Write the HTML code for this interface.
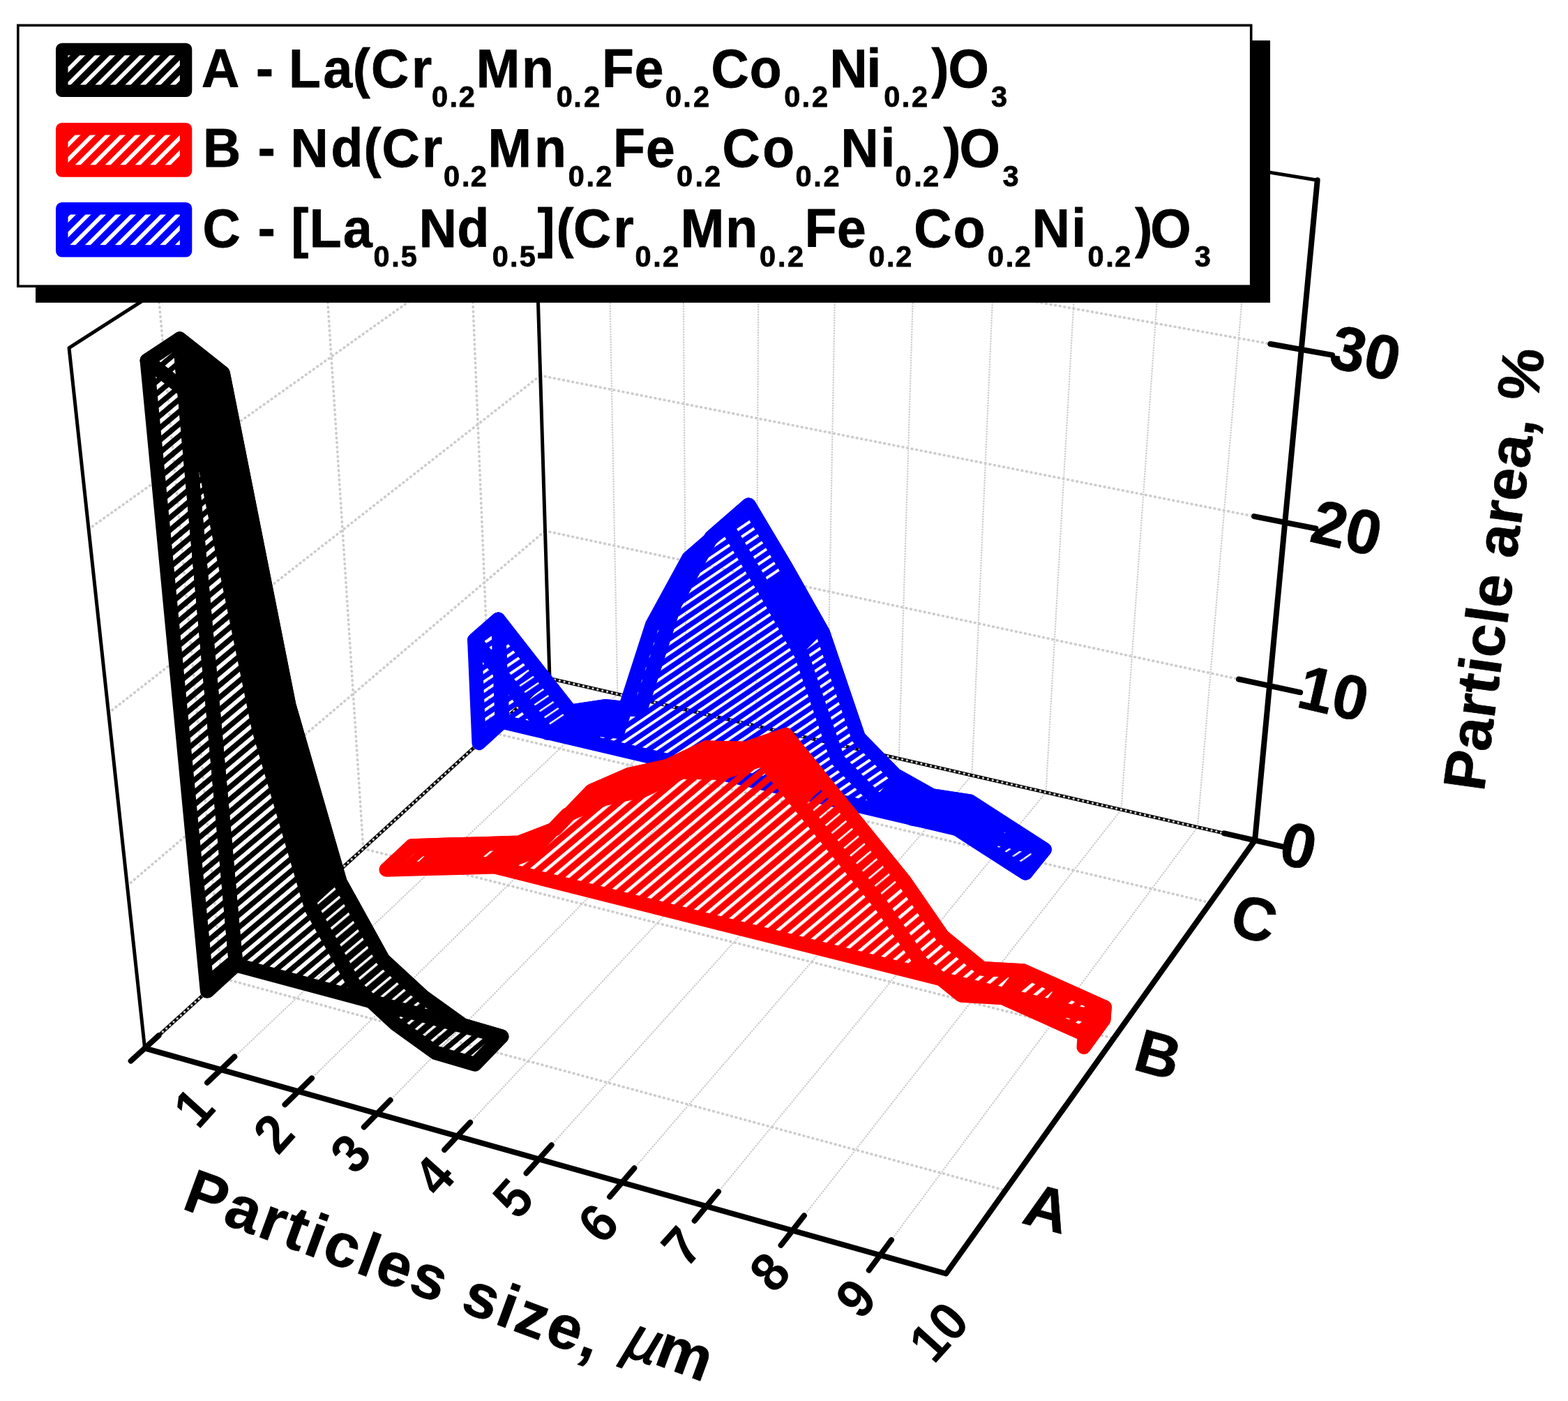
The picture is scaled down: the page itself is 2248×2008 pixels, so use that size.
<!DOCTYPE html>
<html lang="en"><head><meta charset="utf-8"><title>Particle area vs particles size</title>
<style>html,body{margin:0;padding:0;background:#fff;}body{width:2248px;height:2008px;overflow:hidden;}svg{display:block;}</style>
</head><body>
<svg width="2248" height="2008" viewBox="0 0 2248 2008" font-family="&quot;Liberation Sans&quot;, sans-serif" font-weight="bold" role="img" aria-label="3D ribbon chart of particle area versus particles size">
<defs>
<pattern id="h1A" patternUnits="userSpaceOnUse" width="13.5" height="13.5" patternTransform="rotate(-40) translate(0,0)"><rect x="0" y="0" width="13.5" height="5.8" fill="#000"/></pattern>
<pattern id="h2A" patternUnits="userSpaceOnUse" width="13.5" height="13.5" patternTransform="rotate(-40) translate(0,0)"><rect x="0" y="0" width="13.5" height="3.6" fill="#000"/></pattern>
<pattern id="h1B" patternUnits="userSpaceOnUse" width="14" height="14" patternTransform="rotate(-40) translate(0,0)"><rect x="0" y="0" width="14" height="4.6" fill="#000"/></pattern>
<pattern id="h2B" patternUnits="userSpaceOnUse" width="14" height="14" patternTransform="rotate(-40) translate(0,0)"><rect x="0" y="0" width="14" height="2.6" fill="#000"/></pattern>
<pattern id="h1C" patternUnits="userSpaceOnUse" width="11.5" height="11.5" patternTransform="rotate(-34) translate(0,0)"><rect x="0" y="0" width="11.5" height="4.0" fill="#000"/></pattern>
<pattern id="h2C" patternUnits="userSpaceOnUse" width="11.5" height="11.5" patternTransform="rotate(-34) translate(0,0)"><rect x="0" y="0" width="11.5" height="2.4" fill="#000"/></pattern>
<pattern id="hl" patternUnits="userSpaceOnUse" width="15.2" height="15.2" patternTransform="rotate(-45) translate(0,0)"><rect x="0" y="0" width="15.2" height="5.7" fill="#fff"/></pattern>
</defs>
<rect width="2248" height="2008" fill="#fff"/>
<g id="grid" fill="none">
<line x1="316.7" y1="1533.1" x2="885.3" y2="994.7" stroke="#cdcdcd" stroke-width="2.2" stroke-dasharray="2.3 1.4"/>
<line x1="885.3" y1="994.7" x2="868.1" y2="92.1" stroke="#cdcdcd" stroke-width="2.2" stroke-dasharray="2.3 1.4"/>
<line x1="427.8" y1="1564.3" x2="983.9" y2="1017.3" stroke="#cdcdcd" stroke-width="2.2" stroke-dasharray="2.3 1.4"/>
<line x1="983.9" y1="1017.3" x2="977.6" y2="109.9" stroke="#cdcdcd" stroke-width="2.2" stroke-dasharray="2.3 1.4"/>
<line x1="540.7" y1="1596.1" x2="1084.0" y2="1040.3" stroke="#cdcdcd" stroke-width="2.2" stroke-dasharray="2.3 1.4"/>
<line x1="1084.0" y1="1040.3" x2="1088.8" y2="128.0" stroke="#cdcdcd" stroke-width="2.2" stroke-dasharray="2.3 1.4"/>
<line x1="655.7" y1="1628.4" x2="1185.6" y2="1063.6" stroke="#cdcdcd" stroke-width="2.2" stroke-dasharray="2.3 1.4"/>
<line x1="1185.6" y1="1063.6" x2="1201.8" y2="146.4" stroke="#cdcdcd" stroke-width="2.2" stroke-dasharray="2.3 1.4"/>
<line x1="772.6" y1="1661.3" x2="1288.7" y2="1087.2" stroke="#cdcdcd" stroke-width="2.2" stroke-dasharray="2.3 1.4"/>
<line x1="1288.7" y1="1087.2" x2="1316.8" y2="165.1" stroke="#cdcdcd" stroke-width="2.2" stroke-dasharray="2.3 1.4"/>
<line x1="891.7" y1="1694.8" x2="1393.3" y2="1111.3" stroke="#cdcdcd" stroke-width="2.2" stroke-dasharray="2.3 1.4"/>
<line x1="1393.3" y1="1111.3" x2="1433.6" y2="184.1" stroke="#cdcdcd" stroke-width="2.2" stroke-dasharray="2.3 1.4"/>
<line x1="1012.9" y1="1728.9" x2="1499.5" y2="1135.6" stroke="#cdcdcd" stroke-width="2.2" stroke-dasharray="2.3 1.4"/>
<line x1="1499.5" y1="1135.6" x2="1552.5" y2="203.4" stroke="#cdcdcd" stroke-width="2.2" stroke-dasharray="2.3 1.4"/>
<line x1="1136.2" y1="1763.6" x2="1607.4" y2="1160.4" stroke="#cdcdcd" stroke-width="2.2" stroke-dasharray="2.3 1.4"/>
<line x1="1607.4" y1="1160.4" x2="1673.4" y2="223.1" stroke="#cdcdcd" stroke-width="2.2" stroke-dasharray="2.3 1.4"/>
<line x1="1261.9" y1="1798.9" x2="1716.9" y2="1185.5" stroke="#cdcdcd" stroke-width="2.2" stroke-dasharray="2.3 1.4"/>
<line x1="1716.9" y1="1185.5" x2="1796.3" y2="243.1" stroke="#cdcdcd" stroke-width="2.2" stroke-dasharray="2.3 1.4"/>
<line x1="317.8" y1="1401.7" x2="1441.3" y2="1706.2" stroke="#cdcdcd" stroke-width="3.7" stroke-dasharray="0.8 5.9" stroke-linecap="round"/>
<line x1="317.8" y1="1401.7" x2="226.6" y2="416.9" stroke="#cdcdcd" stroke-width="3.7" stroke-dasharray="0.8 5.9" stroke-linecap="round"/>
<line x1="520.8" y1="1216.4" x2="1596.7" y2="1488.3" stroke="#cdcdcd" stroke-width="3.7" stroke-dasharray="0.8 5.9" stroke-linecap="round"/>
<line x1="520.8" y1="1216.4" x2="459.1" y2="267.8" stroke="#cdcdcd" stroke-width="3.7" stroke-dasharray="0.8 5.9" stroke-linecap="round"/>
<line x1="703.4" y1="1049.6" x2="1735.3" y2="1293.9" stroke="#cdcdcd" stroke-width="3.7" stroke-dasharray="0.8 5.9" stroke-linecap="round"/>
<line x1="703.4" y1="1049.6" x2="665.6" y2="135.4" stroke="#cdcdcd" stroke-width="3.7" stroke-dasharray="0.8 5.9" stroke-linecap="round"/>
<line x1="182.3" y1="1269.4" x2="781.5" y2="760.9" stroke="#cdcdcd" stroke-width="3.7" stroke-dasharray="0.8 5.9" stroke-linecap="round"/>
<line x1="781.5" y1="760.9" x2="1820.0" y2="982.9" stroke="#cdcdcd" stroke-width="3.7" stroke-dasharray="0.8 5.9" stroke-linecap="round"/>
<line x1="155.6" y1="1021.8" x2="774.7" y2="538.2" stroke="#cdcdcd" stroke-width="3.7" stroke-dasharray="0.8 5.9" stroke-linecap="round"/>
<line x1="774.7" y1="538.2" x2="1842.2" y2="748.8" stroke="#cdcdcd" stroke-width="3.7" stroke-dasharray="0.8 5.9" stroke-linecap="round"/>
<line x1="127.1" y1="758.3" x2="767.5" y2="303.5" stroke="#cdcdcd" stroke-width="3.7" stroke-dasharray="0.8 5.9" stroke-linecap="round"/>
<line x1="767.5" y1="303.5" x2="1865.7" y2="500.9" stroke="#cdcdcd" stroke-width="3.7" stroke-dasharray="0.8 5.9" stroke-linecap="round"/>
</g>
<g id="box" fill="none" stroke="#000" stroke-linecap="round" stroke-linejoin="round">
<path d="M207.6,1502.4 L99.0,498.7 L760.5,74.5 L1888.7,258.2" stroke-width="5"/>
<line x1="788.0" y1="972.4" x2="760.5" y2="74.5" stroke-width="5"/>
<path d="M207.6,1502.4 L300.6,1417.5" stroke-width="5" stroke-linecap="butt"/>
<path d="M207.6,1502.4 L300.6,1417.5" stroke="#cdcdcd" stroke-width="3.2" stroke-dasharray="0.1 6.9" stroke-linecap="round"/>
<path d="M447.3,1283.5 L788.0,972.4 L1799.1,1204.4" stroke-width="5" stroke-linecap="butt"/>
<path d="M447.3,1283.5 L788.0,972.4 L1799.1,1204.4" stroke="#cdcdcd" stroke-width="3.2" stroke-dasharray="0.1 6.9" stroke-linecap="round"/>
</g>
<g id="ribbons">
<clipPath id="cwC"><path d="M714.3,887.8 L766.1,954.0 L817.7,1019.8 L867.4,1012.3 L917.9,1017.6 L967.5,865.2 L1019.7,770.2 L1073.4,723.6 L1127.0,813.6 L1179.9,907.1 L1230.8,1056.9 L1283.2,1110.6 L1336.3,1140.4 L1390.6,1148.6 L1444.0,1183.0 L1497.6,1217.5 L1497.6,1217.5 L720.0,1034.5 Z"/></clipPath>
<clipPath id="crC"><path d="M714.3,887.8 L766.1,954.0 L817.7,1019.8 L867.4,1012.3 L917.9,1017.6 L967.5,865.2 L1019.7,770.2 L1073.4,723.6 L1127.0,813.6 L1179.9,907.1 L1230.8,1056.9 L1283.2,1110.6 L1336.3,1140.4 L1390.6,1148.6 L1444.0,1183.0 L1497.6,1217.5 L1470.3,1251.5 L1416.2,1216.7 L1362.3,1181.9 L1307.6,1173.4 L1254.0,1143.3 L1201.0,1089.1 L1149.1,938.2 L1095.5,843.8 L1041.3,753.1 L987.3,799.9 L935.1,895.4 L885.8,1048.5 L834.9,1043.0 L784.9,1050.4 L732.8,984.1 L680.3,917.4 Z"/></clipPath>
<mask id="mC" maskUnits="userSpaceOnUse" x="0" y="0" width="2248" height="2008">
<rect width="2248" height="2008" fill="#fff"/>
<path d="M714.3,887.8 L766.1,954.0 L817.7,1019.8 L867.4,1012.3 L917.9,1017.6 L967.5,865.2 L1019.7,770.2 L1073.4,723.6 L1127.0,813.6 L1179.9,907.1 L1230.8,1056.9 L1283.2,1110.6 L1336.3,1140.4 L1390.6,1148.6 L1444.0,1183.0 L1497.6,1217.5 L1497.6,1217.5 L720.0,1034.5 Z" fill="url(#h1C)"/>
<path d="M714.3,887.8 L766.1,954.0 L817.7,1019.8 L867.4,1012.3 L917.9,1017.6 L967.5,865.2 L1019.7,770.2 L1073.4,723.6 L1127.0,813.6 L1179.9,907.1 L1230.8,1056.9 L1283.2,1110.6 L1336.3,1140.4 L1390.6,1148.6 L1444.0,1183.0 L1497.6,1217.5 L1470.3,1251.5 L1416.2,1216.7 L1362.3,1181.9 L1307.6,1173.4 L1254.0,1143.3 L1201.0,1089.1 L1149.1,938.2 L1095.5,843.8 L1041.3,753.1 L987.3,799.9 L935.1,895.4 L885.8,1048.5 L834.9,1043.0 L784.9,1050.4 L732.8,984.1 L680.3,917.4 Z" fill="#fff"/>
<path d="M686.7,1064.9 L680.3,917.4 L714.3,887.8 L720.0,1034.5 Z" fill="#fff"/>
<path d="M686.7,1064.9 L680.3,917.4 L714.3,887.8 L720.0,1034.5 Z" fill="url(#h1C)"/>
<path d="M714.3,887.8 L766.1,954.0 L732.8,984.1 L680.3,917.4 Z" fill="url(#h1C)"/>
<path d="M766.1,954.0 L817.7,1019.8 L784.9,1050.4 L732.8,984.1 Z" fill="url(#h2C)"/>
<path d="M917.9,1017.6 L967.5,865.2 L1019.7,770.2 L1073.4,723.6 L1041.3,753.1 L987.3,799.9 L935.1,895.4 L885.8,1048.5 Z" fill="url(#h2C)"/>
<path d="M1073.4,723.6 L1127.0,813.6 L1095.5,843.8 L1041.3,753.1 Z" fill="url(#h1C)"/>
<path d="M1179.9,907.1 L1230.8,1056.9 L1283.2,1110.6 L1254.0,1143.3 L1201.0,1089.1 L1149.1,938.2 Z" fill="url(#h1C)"/>
<path d="M1444.0,1183.0 L1497.6,1217.5 L1470.3,1251.5 L1416.2,1216.7 Z" fill="url(#h2C)"/>
<g fill="none" stroke="#fff" stroke-width="20.5" stroke-linejoin="round" stroke-linecap="round">
<path d="M714.3,887.8 L766.1,954.0 L817.7,1019.8 L867.4,1012.3 L917.9,1017.6 L967.5,865.2 L1019.7,770.2 L1073.4,723.6 L1127.0,813.6 L1179.9,907.1 L1230.8,1056.9 L1283.2,1110.6 L1336.3,1140.4 L1390.6,1148.6 L1444.0,1183.0 L1497.6,1217.5 L1497.6,1217.5 L720.0,1034.5 Z"/>
<path d="M714.3,887.8 L766.1,954.0 L817.7,1019.8 L867.4,1012.3 L917.9,1017.6 L967.5,865.2 L1019.7,770.2 L1073.4,723.6 L1127.0,813.6 L1179.9,907.1 L1230.8,1056.9 L1283.2,1110.6 L1336.3,1140.4 L1390.6,1148.6 L1444.0,1183.0 L1497.6,1217.5 L1470.3,1251.5 L1416.2,1216.7 L1362.3,1181.9 L1307.6,1173.4 L1254.0,1143.3 L1201.0,1089.1 L1149.1,938.2 L1095.5,843.8 L1041.3,753.1 L987.3,799.9 L935.1,895.4 L885.8,1048.5 L834.9,1043.0 L784.9,1050.4 L732.8,984.1 L680.3,917.4 Z"/>
<path d="M686.7,1064.9 L680.3,917.4 L714.3,887.8 L720.0,1034.5 Z"/>
</g>
</mask>
<g mask="url(#mC)" fill="#0000ff" stroke="#0000ff" stroke-width="20.5" stroke-linejoin="round" stroke-linecap="round">
<path d="M714.3,887.8 L766.1,954.0 L817.7,1019.8 L867.4,1012.3 L917.9,1017.6 L967.5,865.2 L1019.7,770.2 L1073.4,723.6 L1127.0,813.6 L1179.9,907.1 L1230.8,1056.9 L1283.2,1110.6 L1336.3,1140.4 L1390.6,1148.6 L1444.0,1183.0 L1497.6,1217.5 L1497.6,1217.5 L720.0,1034.5 Z"/>
<path d="M714.3,887.8 L766.1,954.0 L817.7,1019.8 L867.4,1012.3 L917.9,1017.6 L967.5,865.2 L1019.7,770.2 L1073.4,723.6 L1127.0,813.6 L1179.9,907.1 L1230.8,1056.9 L1283.2,1110.6 L1336.3,1140.4 L1390.6,1148.6 L1444.0,1183.0 L1497.6,1217.5 L1470.3,1251.5 L1416.2,1216.7 L1362.3,1181.9 L1307.6,1173.4 L1254.0,1143.3 L1201.0,1089.1 L1149.1,938.2 L1095.5,843.8 L1041.3,753.1 L987.3,799.9 L935.1,895.4 L885.8,1048.5 L834.9,1043.0 L784.9,1050.4 L732.8,984.1 L680.3,917.4 Z"/>
<path d="M686.7,1064.9 L680.3,917.4 L714.3,887.8 L720.0,1034.5 Z"/>
</g>
<clipPath id="cwB"><path d="M590.2,1212.4 L641.0,1210.8 L692.3,1209.4 L744.2,1207.8 L796.1,1187.7 L848.1,1133.6 L902.0,1110.2 L956.9,1098.0 L1012.6,1071.6 L1069.1,1073.0 L1126.6,1053.2 L1183.4,1123.2 L1239.9,1192.9 L1296.1,1262.1 L1351.5,1342.3 L1408.0,1388.3 L1466.9,1391.5 L1525.0,1417.4 L1583.5,1443.5 L1582.2,1461.5 L590.2,1212.4 Z"/></clipPath>
<clipPath id="crB"><path d="M590.2,1212.4 L641.0,1210.8 L692.3,1209.4 L744.2,1207.8 L796.1,1187.7 L848.1,1133.6 L902.0,1110.2 L956.9,1098.0 L1012.6,1071.6 L1069.1,1073.0 L1126.6,1053.2 L1183.4,1123.2 L1239.9,1192.9 L1296.1,1262.1 L1351.5,1342.3 L1408.0,1388.3 L1466.9,1391.5 L1525.0,1417.4 L1583.5,1443.5 L1555.0,1482.7 L1496.0,1456.2 L1437.3,1429.9 L1378.0,1426.4 L1320.8,1380.0 L1264.7,1299.1 L1207.8,1229.1 L1150.6,1158.8 L1093.0,1088.1 L1035.3,1107.9 L978.3,1106.3 L922.3,1132.6 L867.1,1144.7 L812.9,1168.0 L760.8,1222.3 L708.6,1242.3 L656.4,1243.7 L604.7,1245.0 L553.7,1246.4 Z"/></clipPath>
<mask id="mB" maskUnits="userSpaceOnUse" x="0" y="0" width="2248" height="2008">
<rect width="2248" height="2008" fill="#fff"/>
<path d="M590.2,1212.4 L641.0,1210.8 L692.3,1209.4 L744.2,1207.8 L796.1,1187.7 L848.1,1133.6 L902.0,1110.2 L956.9,1098.0 L1012.6,1071.6 L1069.1,1073.0 L1126.6,1053.2 L1183.4,1123.2 L1239.9,1192.9 L1296.1,1262.1 L1351.5,1342.3 L1408.0,1388.3 L1466.9,1391.5 L1525.0,1417.4 L1583.5,1443.5 L1582.2,1461.5 L590.2,1212.4 Z" fill="url(#h1B)"/>
<path d="M590.2,1212.4 L641.0,1210.8 L692.3,1209.4 L744.2,1207.8 L796.1,1187.7 L848.1,1133.6 L902.0,1110.2 L956.9,1098.0 L1012.6,1071.6 L1069.1,1073.0 L1126.6,1053.2 L1183.4,1123.2 L1239.9,1192.9 L1296.1,1262.1 L1351.5,1342.3 L1408.0,1388.3 L1466.9,1391.5 L1525.0,1417.4 L1583.5,1443.5 L1555.0,1482.7 L1496.0,1456.2 L1437.3,1429.9 L1378.0,1426.4 L1320.8,1380.0 L1264.7,1299.1 L1207.8,1229.1 L1150.6,1158.8 L1093.0,1088.1 L1035.3,1107.9 L978.3,1106.3 L922.3,1132.6 L867.1,1144.7 L812.9,1168.0 L760.8,1222.3 L708.6,1242.3 L656.4,1243.7 L604.7,1245.0 L553.7,1246.4 Z" fill="#fff"/>
<path d="M1553.8,1500.8 L1555.0,1482.7 L1583.5,1443.5 L1582.2,1461.5 Z" fill="#fff"/>
<path d="M1553.8,1500.8 L1555.0,1482.7 L1583.5,1443.5 L1582.2,1461.5 Z" fill="url(#h1B)"/>
<path d="M590.2,1212.4 L641.0,1210.8 L692.3,1209.4 L744.2,1207.8 L708.6,1242.3 L656.4,1243.7 L604.7,1245.0 L553.7,1246.4 Z" fill="url(#h2B)"/>
<path d="M1183.4,1123.2 L1239.9,1192.9 L1296.1,1262.1 L1264.7,1299.1 L1207.8,1229.1 L1150.6,1158.8 Z" fill="url(#h2B)"/>
<path d="M1296.1,1262.1 L1351.5,1342.3 L1408.0,1388.3 L1466.9,1391.5 L1525.0,1417.4 L1583.5,1443.5 L1555.0,1482.7 L1496.0,1456.2 L1437.3,1429.9 L1378.0,1426.4 L1320.8,1380.0 L1264.7,1299.1 Z" fill="url(#h1B)"/>
<g fill="none" stroke="#fff" stroke-width="20.5" stroke-linejoin="round" stroke-linecap="round">
<path d="M590.2,1212.4 L641.0,1210.8 L692.3,1209.4 L744.2,1207.8 L796.1,1187.7 L848.1,1133.6 L902.0,1110.2 L956.9,1098.0 L1012.6,1071.6 L1069.1,1073.0 L1126.6,1053.2 L1183.4,1123.2 L1239.9,1192.9 L1296.1,1262.1 L1351.5,1342.3 L1408.0,1388.3 L1466.9,1391.5 L1525.0,1417.4 L1583.5,1443.5 L1582.2,1461.5 L590.2,1212.4 Z"/>
<path d="M590.2,1212.4 L641.0,1210.8 L692.3,1209.4 L744.2,1207.8 L796.1,1187.7 L848.1,1133.6 L902.0,1110.2 L956.9,1098.0 L1012.6,1071.6 L1069.1,1073.0 L1126.6,1053.2 L1183.4,1123.2 L1239.9,1192.9 L1296.1,1262.1 L1351.5,1342.3 L1408.0,1388.3 L1466.9,1391.5 L1525.0,1417.4 L1583.5,1443.5 L1555.0,1482.7 L1496.0,1456.2 L1437.3,1429.9 L1378.0,1426.4 L1320.8,1380.0 L1264.7,1299.1 L1207.8,1229.1 L1150.6,1158.8 L1093.0,1088.1 L1035.3,1107.9 L978.3,1106.3 L922.3,1132.6 L867.1,1144.7 L812.9,1168.0 L760.8,1222.3 L708.6,1242.3 L656.4,1243.7 L604.7,1245.0 L553.7,1246.4 Z"/>
<path d="M1553.8,1500.8 L1555.0,1482.7 L1583.5,1443.5 L1582.2,1461.5 Z"/>
<path d="M641.0,1210.8 L604.7,1245.0"/>
<path d="M692.3,1209.4 L656.4,1243.7"/>
<path d="M744.2,1207.8 L708.6,1242.3"/>
<path d="M1466.9,1391.5 L1437.3,1429.9"/>
<path d="M1525.0,1417.4 L1496.0,1456.2"/>
</g>
</mask>
<g mask="url(#mB)" fill="#ff0000" stroke="#ff0000" stroke-width="20.5" stroke-linejoin="round" stroke-linecap="round">
<path d="M590.2,1212.4 L641.0,1210.8 L692.3,1209.4 L744.2,1207.8 L796.1,1187.7 L848.1,1133.6 L902.0,1110.2 L956.9,1098.0 L1012.6,1071.6 L1069.1,1073.0 L1126.6,1053.2 L1183.4,1123.2 L1239.9,1192.9 L1296.1,1262.1 L1351.5,1342.3 L1408.0,1388.3 L1466.9,1391.5 L1525.0,1417.4 L1583.5,1443.5 L1582.2,1461.5 L590.2,1212.4 Z"/>
<path d="M590.2,1212.4 L641.0,1210.8 L692.3,1209.4 L744.2,1207.8 L796.1,1187.7 L848.1,1133.6 L902.0,1110.2 L956.9,1098.0 L1012.6,1071.6 L1069.1,1073.0 L1126.6,1053.2 L1183.4,1123.2 L1239.9,1192.9 L1296.1,1262.1 L1351.5,1342.3 L1408.0,1388.3 L1466.9,1391.5 L1525.0,1417.4 L1583.5,1443.5 L1555.0,1482.7 L1496.0,1456.2 L1437.3,1429.9 L1378.0,1426.4 L1320.8,1380.0 L1264.7,1299.1 L1207.8,1229.1 L1150.6,1158.8 L1093.0,1088.1 L1035.3,1107.9 L978.3,1106.3 L922.3,1132.6 L867.1,1144.7 L812.9,1168.0 L760.8,1222.3 L708.6,1242.3 L656.4,1243.7 L604.7,1245.0 L553.7,1246.4 Z"/>
<path d="M1553.8,1500.8 L1555.0,1482.7 L1583.5,1443.5 L1582.2,1461.5 Z"/>
</g>
<clipPath id="cwA"><path d="M257.7,485.7 L319.6,534.7 L414.2,1010.6 L487.5,1264.2 L549.1,1375.4 L606.6,1428.6 L663.4,1469.4 L719.2,1485.6 L719.2,1485.6 L338.3,1383.0 Z"/></clipPath>
<clipPath id="crA"><path d="M257.7,485.7 L319.6,534.7 L414.2,1010.6 L487.5,1264.2 L549.1,1375.4 L606.6,1428.6 L663.4,1469.4 L719.2,1485.6 L681.0,1525.4 L624.7,1508.9 L567.4,1467.6 L509.2,1413.8 L446.6,1301.7 L371.4,1046.2 L273.4,566.5 L210.8,516.8 Z"/></clipPath>
<mask id="mA" maskUnits="userSpaceOnUse" x="0" y="0" width="2248" height="2008">
<rect width="2248" height="2008" fill="#fff"/>
<path d="M257.7,485.7 L319.6,534.7 L414.2,1010.6 L487.5,1264.2 L549.1,1375.4 L606.6,1428.6 L663.4,1469.4 L719.2,1485.6 L719.2,1485.6 L338.3,1383.0 Z" fill="url(#h1A)"/>
<path d="M257.7,485.7 L319.6,534.7 L414.2,1010.6 L487.5,1264.2 L549.1,1375.4 L606.6,1428.6 L663.4,1469.4 L719.2,1485.6 L681.0,1525.4 L624.7,1508.9 L567.4,1467.6 L509.2,1413.8 L446.6,1301.7 L371.4,1046.2 L273.4,566.5 L210.8,516.8 Z" fill="#fff"/>
<path d="M297.1,1420.6 L210.8,516.8 L257.7,485.7 L338.3,1383.0 Z" fill="#fff"/>
<path d="M297.1,1420.6 L210.8,516.8 L257.7,485.7 L338.3,1383.0 Z" fill="url(#h1A)"/>
<path d="M487.5,1264.2 L549.1,1375.4 L606.6,1428.6 L663.4,1469.4 L624.7,1508.9 L567.4,1467.6 L509.2,1413.8 L446.6,1301.7 Z" fill="url(#h2A)"/>
<path d="M663.4,1469.4 L719.2,1485.6 L681.0,1525.4 L624.7,1508.9 Z" fill="url(#h1A)"/>
<g fill="none" stroke="#fff" stroke-width="20.5" stroke-linejoin="round" stroke-linecap="round">
<path d="M257.7,485.7 L319.6,534.7 L414.2,1010.6 L487.5,1264.2 L549.1,1375.4 L606.6,1428.6 L663.4,1469.4 L719.2,1485.6 L719.2,1485.6 L338.3,1383.0 Z"/>
<path d="M257.7,485.7 L319.6,534.7 L414.2,1010.6 L487.5,1264.2 L549.1,1375.4 L606.6,1428.6 L663.4,1469.4 L719.2,1485.6 L681.0,1525.4 L624.7,1508.9 L567.4,1467.6 L509.2,1413.8 L446.6,1301.7 L371.4,1046.2 L273.4,566.5 L210.8,516.8 Z"/>
<path d="M297.1,1420.6 L210.8,516.8 L257.7,485.7 L338.3,1383.0 Z"/>
</g>
</mask>
<g mask="url(#mA)" fill="#000000" stroke="#000000" stroke-width="20.5" stroke-linejoin="round" stroke-linecap="round">
<path d="M257.7,485.7 L319.6,534.7 L414.2,1010.6 L487.5,1264.2 L549.1,1375.4 L606.6,1428.6 L663.4,1469.4 L719.2,1485.6 L719.2,1485.6 L338.3,1383.0 Z"/>
<path d="M257.7,485.7 L319.6,534.7 L414.2,1010.6 L487.5,1264.2 L549.1,1375.4 L606.6,1428.6 L663.4,1469.4 L719.2,1485.6 L681.0,1525.4 L624.7,1508.9 L567.4,1467.6 L509.2,1413.8 L446.6,1301.7 L371.4,1046.2 L273.4,566.5 L210.8,516.8 Z"/>
<path d="M297.1,1420.6 L210.8,516.8 L257.7,485.7 L338.3,1383.0 Z"/>
</g>
</g>
<g id="axes" fill="none" stroke="#000" stroke-linecap="round" stroke-linejoin="round">
<path d="M207.6,1502.4 L1356.3,1825.5 L1799.1,1204.4 L1888.7,258.2" stroke-width="8"/>
<line x1="187.6" y1="1520.6" x2="227.5" y2="1484.2" stroke-width="8"/>
<line x1="297.1" y1="1551.7" x2="336.3" y2="1514.5" stroke-width="8"/>
<line x1="408.5" y1="1583.2" x2="447.0" y2="1545.4" stroke-width="8"/>
<line x1="521.8" y1="1615.4" x2="559.6" y2="1576.8" stroke-width="8"/>
<line x1="637.2" y1="1648.1" x2="674.1" y2="1608.7" stroke-width="8"/>
<line x1="754.6" y1="1681.4" x2="790.7" y2="1641.2" stroke-width="8"/>
<line x1="874.1" y1="1715.3" x2="909.3" y2="1674.3" stroke-width="8"/>
<line x1="995.7" y1="1749.7" x2="1030.0" y2="1708.0" stroke-width="8"/>
<line x1="1119.6" y1="1784.8" x2="1152.9" y2="1742.3" stroke-width="8"/>
<line x1="1245.8" y1="1820.6" x2="1278.0" y2="1777.2" stroke-width="8"/>
<line x1="1755.2" y1="1194.3" x2="1842.9" y2="1214.4" stroke-width="8"/>
<line x1="1776.0" y1="973.5" x2="1864.1" y2="992.3" stroke-width="8"/>
<line x1="1798.1" y1="740.1" x2="1886.4" y2="757.5" stroke-width="8"/>
<line x1="1821.4" y1="493.0" x2="1910.0" y2="508.9" stroke-width="8"/>
</g>
<g id="labels" fill="#000" stroke="#000" stroke-width="0.7" stroke-linejoin="round">
<text transform="translate(284.3,1620.4) rotate(-48) scale(0.93,1)" font-size="78" stroke="none">1</text>
<text transform="translate(398.8,1657.3) rotate(-48) scale(0.93,1)" font-size="78" stroke="none">2</text>
<text transform="translate(509.0,1685.9) rotate(-48) scale(0.93,1)" font-size="78" stroke="none">3</text>
<text transform="translate(628.8,1718.5) rotate(-48) scale(0.93,1)" font-size="78" stroke="none">4</text>
<text transform="translate(742.1,1750.6) rotate(-48) scale(0.93,1)" font-size="78" stroke="none">5</text>
<text transform="translate(864.1,1785.9) rotate(-48) scale(0.93,1)" font-size="78" stroke="none">6</text>
<text transform="translate(983.9,1819.2) rotate(-48) scale(0.93,1)" font-size="78" stroke="none">7</text>
<text transform="translate(1110.1,1856.1) rotate(-48) scale(0.93,1)" font-size="78" stroke="none">8</text>
<text transform="translate(1233.4,1893.7) rotate(-48) scale(0.93,1)" font-size="78" stroke="none">9</text>
<text transform="translate(1338.7,1956.7) rotate(-48) scale(0.93,1)" font-size="78" stroke="none">10</text>
<text transform="translate(1830.5,1236.7) rotate(12.9)" font-size="89.5">0</text>
<text transform="translate(1856.5,1012.7) rotate(12.9)" font-size="89.5">10</text>
<text transform="translate(1875.5,775.5) rotate(12.9)" font-size="89.5">20</text>
<text transform="translate(1902.5,525.0) rotate(12.9)" font-size="89.5">30</text>
<text transform="translate(1463.1,1752.2) rotate(15.5)" font-size="87">A</text>
<text transform="translate(1622.3,1531.9) rotate(15.5)" font-size="87">B</text>
<text transform="translate(1759.7,1337.3) rotate(15.5)" font-size="87">C</text>
<text transform="translate(259.0,1731.6) rotate(20.2)" font-size="88" letter-spacing="3.4">Particles size, <tspan x="664.6" y="-21.8" font-style="italic" font-weight="normal" stroke-width="1.6">µ</tspan><tspan x="711.7" y="-25.0">m</tspan></text>
<text transform="translate(2127.3,1135.7) rotate(-82.15)" font-size="85" letter-spacing="0.7">Particle area, %</text>
</g>
<g id="legend">
<rect x="51" y="58" width="1770" height="375.8" fill="#000"/>
<rect x="25.8" y="36.3" width="1767.9" height="373.9" fill="#fff" stroke="#000" stroke-width="3.6"/>
<rect x="88.75" y="70.55" width="177.8" height="59.7" fill="#000000" stroke="#000000" stroke-width="17.5" stroke-linejoin="round"/>
<rect x="97.5" y="79.3" width="160.3" height="42.2" fill="url(#hl)"/>
<text transform="translate(0,124.9) scale(1,1.03)" font-size="75" stroke="#000" stroke-width="0.8" stroke-linejoin="round"><tspan x="289.1 343.3 367.1 392.0 414.1 463.5 505.7 532.1 589.9" y="0">A - La(Cr</tspan><tspan x="618.9 644.5 657.7" y="27.4" font-size="41.5">0.2</tspan><tspan x="682.8 747.9" y="0">Mn</tspan><tspan x="797.7 822.2 837.1" y="27.4" font-size="41.5">0.2</tspan><tspan x="863.0 909.7" y="0">Fe</tspan><tspan x="953.9 979.2 994.1" y="27.4" font-size="41.5">0.2</tspan><tspan x="1019.4 1074.8" y="0">Co</tspan><tspan x="1124.3 1149.6 1164.1" y="27.4" font-size="41.5">0.2</tspan><tspan x="1189.6 1242.5" y="0">Ni</tspan><tspan x="1267.2 1292.7 1307.1" y="27.4" font-size="41.5">0.2</tspan><tspan x="1335.4 1359.4" y="0">)O</tspan><tspan x="1421.1" y="27.4" font-size="41.5">3</tspan></text>
<rect x="88.75" y="184.75" width="177.8" height="60.30000000000001" fill="#ff0000" stroke="#ff0000" stroke-width="17.5" stroke-linejoin="round"/>
<rect x="97.5" y="193.5" width="160.3" height="42.80000000000001" fill="url(#hl)"/>
<text transform="translate(0,238.7) scale(1,1.03)" font-size="75" stroke="#000" stroke-width="0.8" stroke-linejoin="round"><tspan x="290.9 345.0 369.8 394.7 416.6 474.4 521.6 547.5 605.1" y="0">B - Nd(Cr</tspan><tspan x="636.1 661.9 674.8" y="27.4" font-size="41.5">0.2</tspan><tspan x="699.4 766.1" y="0">Mn</tspan><tspan x="814.8 840.6 854.3" y="27.4" font-size="41.5">0.2</tspan><tspan x="878.9 925.9" y="0">Fe</tspan><tspan x="970.1 996.4 1010.1" y="27.4" font-size="41.5">0.2</tspan><tspan x="1035.4 1093.2" y="0">Co</tspan><tspan x="1140.5 1166.2 1180.4" y="27.4" font-size="41.5">0.2</tspan><tspan x="1205.5 1262.4" y="0">Ni</tspan><tspan x="1283.6 1310.2 1323.1" y="27.4" font-size="41.5">0.2</tspan><tspan x="1352.6 1375.4" y="0">)O</tspan><tspan x="1437.6" y="27.4" font-size="41.5">3</tspan></text>
<rect x="88.75" y="298.75" width="177.8" height="61.10000000000002" fill="#0000ff" stroke="#0000ff" stroke-width="17.5" stroke-linejoin="round"/>
<rect x="97.5" y="307.5" width="160.3" height="43.60000000000002" fill="url(#hl)"/>
<text transform="translate(0,353.6) scale(1,1.03)" font-size="75" stroke="#000" stroke-width="0.8" stroke-linejoin="round"><tspan x="290.4 344.6 369.8 394.7 417.6 443.8 492.0" y="0">C - [La</tspan><tspan x="535.5 561.3 574.8" y="27.4" font-size="41.5">0.5</tspan><tspan x="600.8 655.5" y="0">Nd</tspan><tspan x="705.8 731.1 744.8" y="27.4" font-size="41.5">0.5</tspan><tspan x="770.5 797.5 821.9 879.5" y="0">](Cr</tspan><tspan x="910.5 936.3 950.0" y="27.4" font-size="41.5">0.2</tspan><tspan x="975.8 1040.2" y="0">Mn</tspan><tspan x="1089.1 1114.9 1129.1" y="27.4" font-size="41.5">0.2</tspan><tspan x="1153.7 1199.9" y="0">Fe</tspan><tspan x="1245.4 1271.0 1284.2" y="27.4" font-size="41.5">0.2</tspan><tspan x="1310.2 1366.8" y="0">Co</tspan><tspan x="1416.0 1441.8 1454.7" y="27.4" font-size="41.5">0.2</tspan><tspan x="1479.8 1536.3" y="0">Ni</tspan><tspan x="1559.5 1585.3 1598.2" y="27.4" font-size="41.5">0.2</tspan><tspan x="1627.2 1649.3" y="0">)O</tspan><tspan x="1712.7" y="27.4" font-size="41.5">3</tspan></text>
</g>
</svg>
</body></html>
